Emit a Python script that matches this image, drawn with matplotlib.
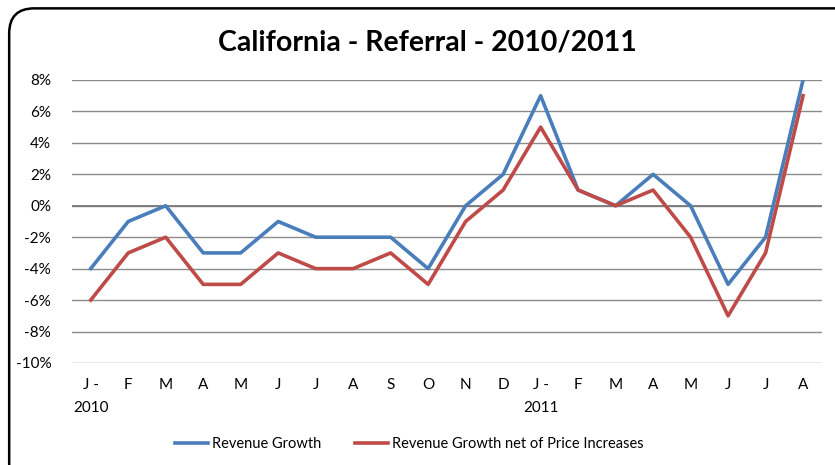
import matplotlib
matplotlib.use("Agg")
import matplotlib.pyplot as plt
from matplotlib.patches import FancyBboxPatch
from matplotlib.ticker import FuncFormatter, MultipleLocator

plt.rcParams['font.family'] = ['Lato', 'DejaVu Sans']

months = ["J -\n2010", "F", "M", "A", "M", "J", "J", "A", "S", "O", "N", "D",
          "J -\n2011", "F", "M", "A", "M", "J", "J", "A"]
revenue_growth = [-4, -1, 0, -3, -3, -1, -2, -2, -2, -4, 0, 2, 7, 1, 0, 2, 0, -5, -2, 8]
revenue_growth_net = [-6, -3, -2, -5, -5, -3, -4, -4, -3, -5, -1, 1, 5, 1, 0, 1, -2, -7, -3, 7]

fig = plt.figure(figsize=(8.35, 4.65), dpi=100)
border = FancyBboxPatch((0.011, -0.05), 1.05, 1.032,
                        boxstyle="round,pad=0,rounding_size=0.03",
                        transform=fig.transFigure, fill=False,
                        edgecolor="black", linewidth=1.8, mutation_aspect=835/465)
fig.patches.append(border)

ax = fig.add_axes([0.0862, 0.2194, 0.898, 0.6086])
x = list(range(len(months)))
ax.plot(x, revenue_growth, color="#4A7EBB", lw=2.6, label="Revenue Growth", zorder=3)
ax.plot(x, revenue_growth_net, color="#BE4B48", lw=2.6,
        label="Revenue Growth net of Price Increases", zorder=3)

ax.set_xlim(-0.5, len(months) - 0.5)
ax.set_ylim(-10, 8)
ax.yaxis.set_major_locator(MultipleLocator(2))
ax.yaxis.set_major_formatter(FuncFormatter(lambda v, p: f"{int(round(v))}%"))
ax.set_xticks(x)
ax.set_xticklabels(months, fontsize=11, linespacing=1.75)
ax.tick_params(axis='y', labelsize=11, length=0, pad=15)
ax.tick_params(axis='x', length=0, pad=11)
ax.grid(axis='y', color="#8C8C8C", lw=1.0)
for s in ax.spines.values():
    s.set_visible(False)
ax.axhline(0, color="#7A7A7A", lw=1.3, zorder=2)

fig.text(0.512, 0.908, "California - Referral - 2010/2011", ha="center", va="center",
         fontsize=20.5, fontweight="bold")

leg = fig.legend(loc="center", bbox_to_anchor=(0.49, 0.045), ncol=2, frameon=False,
                 fontsize=10.5, handlelength=2.3, columnspacing=2.3, handletextpad=0.25)

fig.savefig("out.png", dpi=100)
